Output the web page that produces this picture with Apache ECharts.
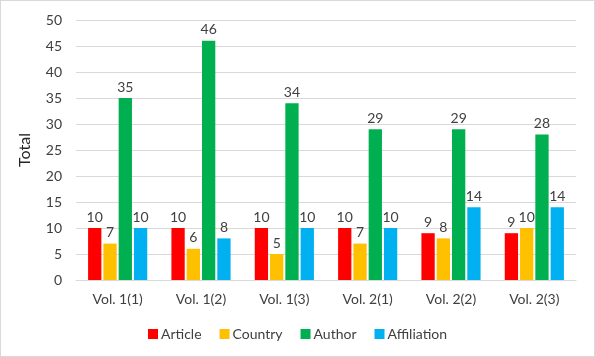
<!DOCTYPE html>
<html><head><meta charset="utf-8">
<script src="https://cdn.jsdelivr.net/npm/echarts@6/dist/echarts.min.js"></script>
<style>html,body{margin:0;padding:0;background:#fff}#c{width:593px;height:355px;border:1px solid #d9d9d9}</style>
</head><body><div id="c"></div>
<script>
const categories = ["Vol. 1(1)","Vol. 1(2)","Vol. 1(3)","Vol. 2(1)","Vol. 2(2)","Vol. 2(3)"];
const article = [10,10,10,10,9,9];
const country = [7,6,5,7,8,10];
const author = [35,46,34,29,29,28];
const affiliation = [10,8,10,10,14,14];
const font = "Lato, 'Open Sans', sans-serif";
const chart = echarts.init(document.getElementById('c'));
function s(name, data, color){
  return {name, type:'bar', data, barGap:'15%', barCategoryGap:'29%',
    itemStyle:{color},
    label:{show:true, position:'top', color:'#404040', fontSize:14, fontFamily:font, distance:4}};
}
chart.setOption({
  animation:false,
  textStyle:{fontFamily:font},
  grid:{left:75, right:18, top:19, bottom:76},
  legend:{bottom:10, left:'center', itemWidth:10, itemHeight:10, itemGap:18, icon:'rect',
    textStyle:{fontSize:14, color:'#404040', fontFamily:font, padding:[0,0,0,-2]}},
  xAxis:{type:'category', data:categories, axisTick:{show:false},
    axisLine:{lineStyle:{color:'#d9d9d9'}},
    axisLabel:{fontSize:14, color:'#404040', margin:12, fontFamily:font}},
  yAxis:{type:'value', min:0, max:50, interval:5, name:'Total', nameLocation:'middle', nameGap:43,
    nameTextStyle:{fontSize:16, color:'#262626', fontFamily:font},
    axisLabel:{fontSize:14, color:'#404040', margin:14, fontFamily:font},
    splitLine:{lineStyle:{color:'#d9d9d9'}}},
  series:[s('Article',article,'#FF0000'), s('Country',country,'#FFC000'), s('Author',author,'#00B050'), s('Affiliation',affiliation,'#00B0F0')]
});
</script></body></html>
